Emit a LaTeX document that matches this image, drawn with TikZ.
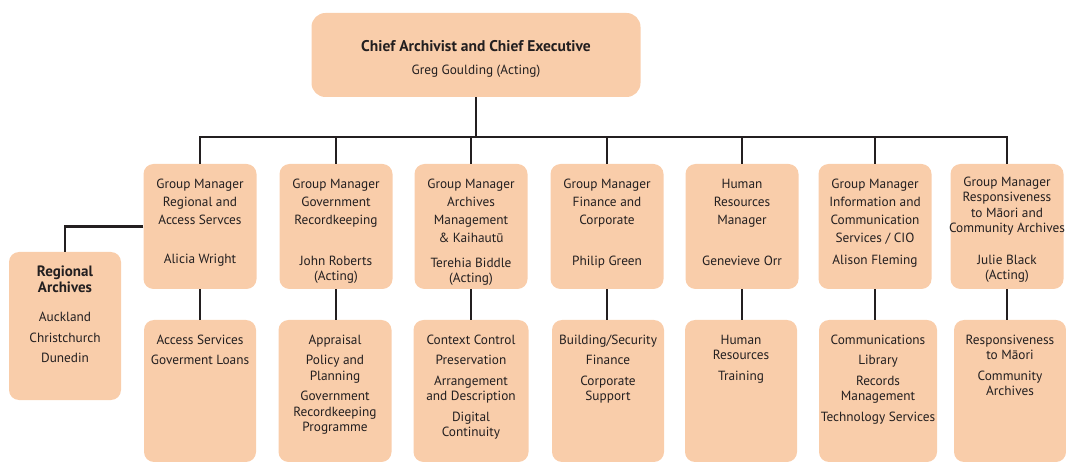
\documentclass[tikz,border=0pt]{standalone}
\usepackage{fontspec}
\setmainfont{PT Sans}
\usetikzlibrary{positioning}
\definecolor{peach}{RGB}{249,205,170}
\definecolor{ink}{RGB}{35,31,32}

\begin{document}
\begin{tikzpicture}[x=1pt,y=-1pt,
  box/.style={fill=peach,rounded corners=10pt,inner sep=0pt,minimum width=113pt},
  mgr/.style={box,minimum height=125pt},
  unit/.style={box,minimum height=142pt},
  link/.style={draw=ink,line width=2.2pt},
  head/.style={anchor=north,align=center,inner sep=0pt,text=ink,font=\fontsize{13.3}{18}\selectfont},
  who/.style={head,font=\fontsize{13.3}{14.5}\selectfont},
  duty/.style={head,font=\fontsize{13.3}{15.5}\selectfont}]
  \useasboundingbox (0,0) rectangle (1066,462);
  % chief executive
  \node[box,rounded corners=14pt,minimum width=329pt,minimum height=84pt] (ceo) at (476,55) {};
  \node[head,font=\bfseries\fontsize{15.5}{18}\selectfont] (ceot) at (476,40.5) {Chief Archivist and Chief Executive};
  \node[who] (ceon) at (476,64.5) {Greg Goulding (Acting)};
  % group managers, and the units below them
  \foreach \i/\x in {1/200,2/336,3/471,4/607,5/742,6/875,7/1007}
    \node[mgr] (m\i) at (\x,226.5) {};
  \foreach \i/\x/\w in {1/200/112,2/335/113,3/471/115,4/608/112,5/741/112,6/878/118,7/1010/112}
    \node[unit,minimum width=\w pt] (u\i) at (\x,391) {};
  \node[box,minimum width=112pt,minimum height=148pt] (reg) at (65,326) {};
  % reporting lines
  \coordinate (bus) at (476,137);
  \draw[link] (ceo) -- (bus);
  \draw[link] (m1) |- (bus) -| (m7);
  \foreach \i in {2,...,6} \draw[link] (m\i) -- (m\i |- bus);
  \foreach \i in {1,...,7} \draw[link] (m\i.south) -- (m\i.south |- u\i.north);
  \draw[link] (m1.west) -| (reg);
  % titles and names
  \foreach \i/\t in {1/{Group Manager\\Regional and\\Access Servces},
                     2/{Group Manager\\Government\\Recordkeeping},
                     3/{Group Manager\\Archives\\Management\\\& Kaihautū},
                     4/{Group Manager\\Finance and\\Corporate},
                     5/{Human\\Resources\\Manager},
                     6/{Group Manager\\Information and\\Communication\\Services / CIO}}
    \node[head,below=15pt of m\i.north] (t\i) {\t};
  \node[duty,below=13pt of m7.north] (t7) {Group Manager\\Responsiveness\\to Māori and\\Community Archives};
  \foreach \i/\y/\n in {1/254/{Alicia Wright},2/256/{John Roberts\\(Acting)},3/258/{Terehia Biddle\\(Acting)},
                        4/256/{Philip Green},5/256/{Genevieve Orr},6/255/{Alison Fleming},7/255/{Julie Black\\(Acting)}}
    \node[who] (n\i) at (m\i |- 0,\y) {\n};
  % what each group does
  \foreach \i/\t in {1/{Access Services\\[5pt]Goverment Loans},
                     2/{Appraisal\\[5pt]Policy and\\Planning\\[5pt]Government\\Recordkeeping\\Programme},
                     3/{Context Control\\[5pt]Preservation\\[5pt]Arrangement\\and Description\\[5pt]Digital\\Continuity},
                     4/{Building/Security\\[5pt]Finance\\[5pt]Corporate\\Support},
                     5/{Human\\Resources\\[5pt]Training},
                     6/{Communications\\[5pt]Library\\[5pt]Records\\Management\\[5pt]Technology Services},
                     7/{Responsiveness\\to Māori\\[5pt]Community\\Archives}}
    \node[duty,below=15pt of u\i.north] (d\i) {\t};
  \node[duty,below=14pt of reg.north] (regt) {{\bfseries\fontsize{15}{15.5}\selectfont Regional}\\{\bfseries\fontsize{15}{15.5}\selectfont Archives}\\[14pt]Auckland\\[5pt]Christchurch\\[5pt]Dunedin};
\end{tikzpicture}
\end{document}
